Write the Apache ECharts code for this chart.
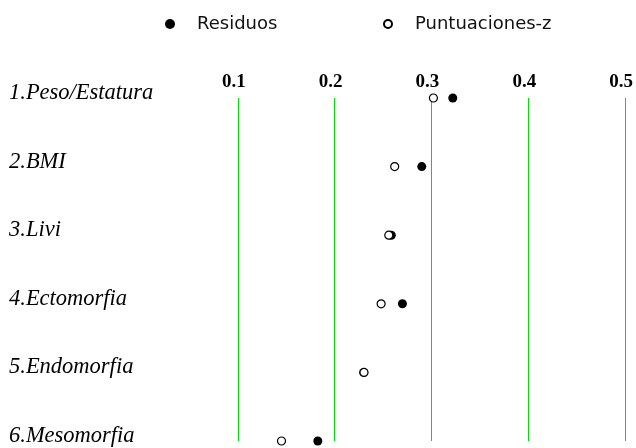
<!DOCTYPE html>
<html>
<head>
<meta charset="utf-8">
<script src="https://cdn.jsdelivr.net/npm/echarts@6/dist/echarts.min.js"></script>
<style>html,body{margin:0;padding:0;background:#fff}#c{width:636px;height:448px}</style>
</head>
<body>
<div id="c"></div>
<script>
var categories = ['1.Peso/Estatura', '2.BMI', '3.Livi', '4.Ectomorfia', '5.Endomorfia', '6.Mesomorfia'];
var residuos = [0.322, 0.290, 0.2585, 0.270, 0.230, 0.1826];
var puntuacionesZ = [0.302, 0.262, 0.2559, 0.248, 0.2303, 0.1451];
var seriesNames = ['Residuos', 'Puntuaciones-z'];

var chart = echarts.init(document.getElementById('c'), null, {renderer: 'canvas'});
var legendText = {fontFamily: 'DejaVu Sans', fontSize: 18, color: '#111'};
chart.setOption({
  animation: false,
  backgroundColor: '#fff',
  legend: [
    {data: [{name: seriesNames[0], icon: 'circle'}], left: 160, top: 10, itemWidth: 44, itemHeight: 10, textStyle: legendText, selectedMode: false},
    {data: [{name: seriesNames[1], icon: 'circle'}], left: 378, top: 10, itemWidth: 44, itemHeight: 8, textStyle: legendText, selectedMode: false}
  ],
  grid: {left: 141, right: 5.4, top: 98, bottom: 7, containLabel: false},
  xAxis: {
    type: 'value', position: 'top', min: 0, max: 0.5, interval: 0.1,
    axisLine: {show: false}, axisTick: {show: false},
    axisLabel: {showMinLabel: false, showMaxLabel: true, margin: 6, padding: [0, 8, 0, 0],
      fontFamily: 'Liberation Serif', fontWeight: 'bold', fontSize: 19, color: '#000',
      formatter: function (v) { return v.toFixed(1); }},
    splitLine: {show: true, showMinLine: false, showMaxLine: true, lineStyle: {color: '#00e000', width: 1}}
  },
  yAxis: {
    type: 'category', data: categories, inverse: true, boundaryGap: false,
    axisLine: {show: false}, axisTick: {show: false}, splitLine: {show: false},
    axisLabel: {align: 'left', margin: 132, verticalAlign: 'bottom', lineHeight: 10,
      fontFamily: 'Liberation Serif', fontStyle: 'italic', fontSize: 22.5, color: '#000'}
  },
  series: [
    {name: seriesNames[0], type: 'scatter', data: residuos, symbol: 'circle', symbolSize: 9,
      itemStyle: {color: '#000', borderColor: '#000', borderWidth: 0, opacity: 1}, z: 2},
    {name: seriesNames[1], type: 'scatter', data: puntuacionesZ, symbol: 'circle', symbolSize: 8,
      itemStyle: {color: '#fff', borderColor: '#000', borderWidth: 1.2, opacity: 1}, z: 3}
  ]
});
</script>
</body>
</html>
